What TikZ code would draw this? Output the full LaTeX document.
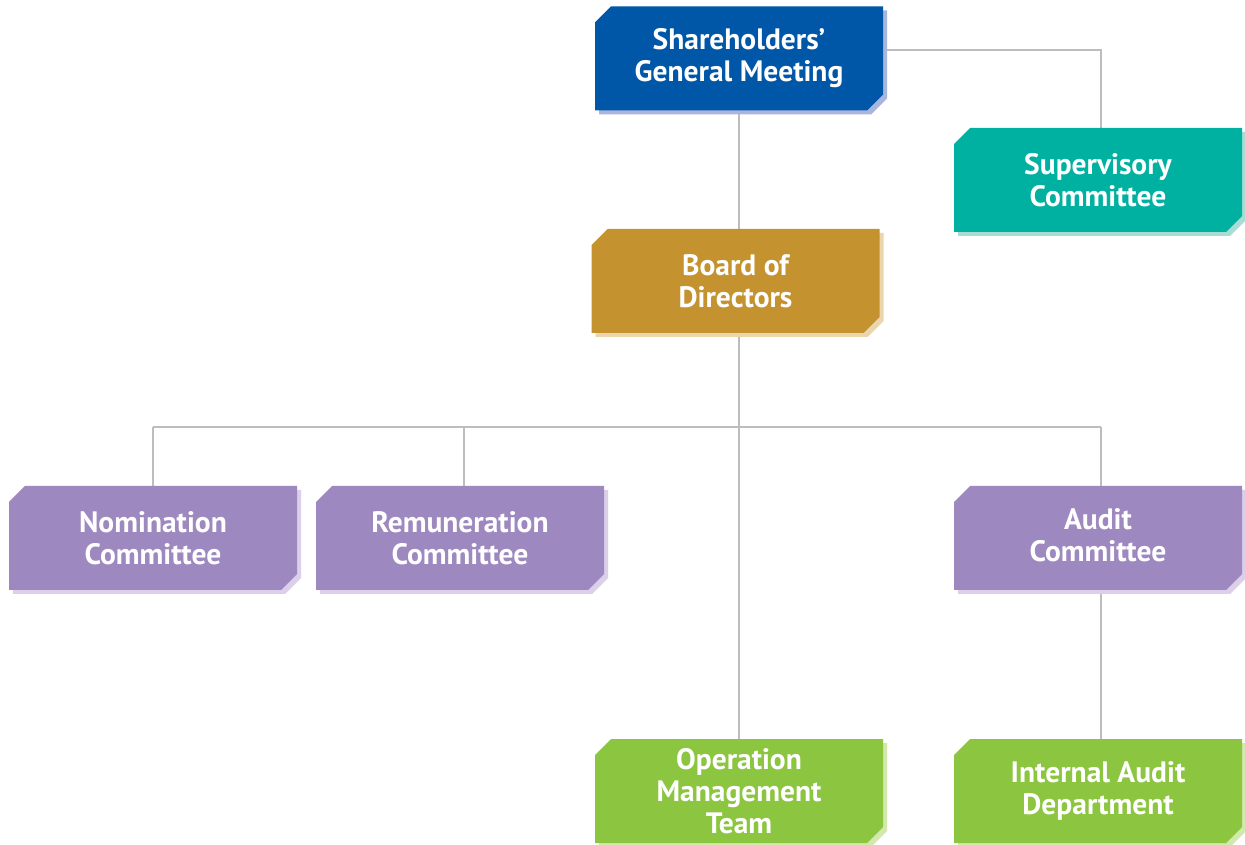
\documentclass[tikz,border=0pt]{standalone}
\usepackage{fontspec}
\setmainfont{PT Sans}
\usetikzlibrary{shapes.misc,shadows}
\definecolor{cblue}{HTML}{0057A8}
\definecolor{cblueS}{HTML}{A9B5DD}
\definecolor{cteal}{HTML}{00B0A0}
\definecolor{ctealS}{HTML}{A8DDD5}
\definecolor{cgold}{HTML}{C49330}
\definecolor{cgoldS}{HTML}{EAD6AA}
\definecolor{cpurp}{HTML}{9E88C0}
\definecolor{cpurpS}{HTML}{DBCFEA}
\definecolor{cgreen}{HTML}{8CC540}
\definecolor{cgreenS}{HTML}{D2E8AC}
\definecolor{cline}{HTML}{BDBDBD}
\pgfdeclarelayer{background}
\pgfsetlayers{background,main}
\tikzset{
  orgbox/.style n args={2}{chamfered rectangle,
    chamfered rectangle corners={north west,south east},
    chamfered rectangle xsep=8pt, chamfered rectangle ysep=8pt,
    minimum width=288pt, minimum height=104pt, inner sep=0pt,
    fill=#1, text=white, align=center,
    font=\fontsize{29.5}{32}\selectfont\bfseries,
    general shadow={fill=#2, shadow xshift=4pt, shadow yshift=-4pt}},
  link/.style={draw=cline, line width=2pt}
}
\begin{document}
\begin{tikzpicture}[x=1pt,y=1pt]
\useasboundingbox (0,0) rectangle (1245,844);
\node[orgbox={cblue}{cblueS}] (sh) at (739,785.5) {Shareholders’\\General Meeting};
\node[orgbox={cteal}{ctealS}] (sup) at (1098,664) {Supervisory\\Committee};
\node[orgbox={cgold}{cgoldS}] (bod) at (735.5,563) {Board of\\Directors};
\node[orgbox={cpurp}{cpurpS}] (nom) at (153,306) {Nomination\\Committee};
\node[orgbox={cpurp}{cpurpS}] (rem) at (460,306) {Remuneration\\Committee};
\node[orgbox={cpurp}{cpurpS}] (aud) at (1098,306) {Audit\\Committee\\[-26pt]};
\node[orgbox={cgreen}{cgreenS}] (op) at (739,53) {Operation\\Management\\Team};
\node[orgbox={cgreen}{cgreenS}] (ia) at (1098,53) {Internal Audit\\Department};
\coordinate (hm) at (739,417);
\begin{pgfonlayer}{background}
\fill[white] (0,0) rectangle (1245,844);
\draw[link] ([yshift=8.5pt]sh.east) -| ([xshift=3pt]sup.north);
\draw[link] (sh.south) -- (sh.south |- bod.north);
\draw[link] (bod.south -| op.north) -- (op.north);
\draw[link] (nom.north |- hm) -- ([xshift=3pt]aud.north |- hm);
\draw[link] (nom.north |- hm) -- (nom.north);
\draw[link] ([xshift=4pt]rem.north |- hm) -- ([xshift=4pt]rem.north);
\draw[link] ([xshift=3pt]aud.north |- hm) -- ([xshift=3pt]aud.north);
\draw[link] ([xshift=3pt]aud.south) -- ([xshift=3pt]ia.north);
\end{pgfonlayer}
\end{tikzpicture}
\end{document}
